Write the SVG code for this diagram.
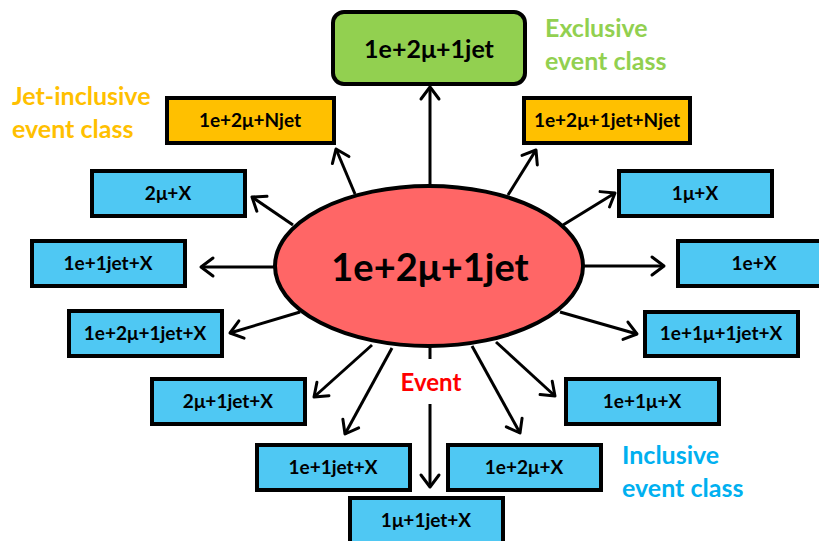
<svg xmlns="http://www.w3.org/2000/svg" width="819" height="541" viewBox="0 0 819 541">
<defs>
<style>
text{font-family:Lato,"Open Sans","Noto Sans",sans-serif;font-weight:bold;text-anchor:middle}
.box{stroke:#000;stroke-width:4}
.blue{fill:#4fc8f3}
.orange{fill:#ffc000}
.lbl{font-size:19px;fill:#000}
.conn{fill:none;stroke:#000;stroke-width:3;marker-end:url(#arr)}
.cap{font-size:25px;text-anchor:start}
</style>
<marker id="arr" markerUnits="userSpaceOnUse" viewBox="-3 -12 18 24" markerWidth="18" markerHeight="24" refX="12" refY="0" orient="auto" overflow="visible">
<path d="M0,-9 L12,0 L0,9" fill="none" stroke="#000" stroke-width="3" stroke-linecap="round" stroke-linejoin="round"/>
</marker>
</defs>
<g id="connectors">
<path class="conn" d="M430,185 V87"/>
<path class="conn" d="M355,194 L336,149"/>
<path class="conn" d="M508,195 L536,150"/>
<path class="conn" d="M293,225 L252,197"/>
<path class="conn" d="M276,267 H201"/>
<path class="conn" d="M300,312 L230,333"/>
<path class="conn" d="M372,345 L314,397"/>
<path class="conn" d="M392,348 L345,434"/>
<path class="conn" d="M430,346 V359 M430,404 V487"/>
<path class="conn" d="M472,346 L520,433"/>
<path class="conn" d="M496,342 L555,396"/>
<path class="conn" d="M560,312 L637,334"/>
<path class="conn" d="M583,266 H664"/>
<path class="conn" d="M563,225 L615,193"/>
</g>
<g id="event">
<ellipse cx="429" cy="266" rx="154" ry="80" fill="#ff6666" stroke="#000" stroke-width="4"/>
<text x="430" y="281" font-size="38">1e+2μ+1jet</text>
</g>
<g id="exclusive">
<rect x="333" y="12" width="192" height="72" rx="11" fill="#92d050" class="box"/>
<text x="429" y="58" font-size="25">1e+2μ+1jet</text>
</g>
<g id="jet-left">
<rect class="box orange" x="167" y="98" width="167" height="45"/>
<text class="lbl" x="250" y="127">1e+2μ+Njet</text>
</g>
<g id="jet-right">
<rect class="box orange" x="524" y="98" width="166" height="45"/>
<text class="lbl" x="607" y="127">1e+2μ+1jet+Njet</text>
</g>
<g id="n-2mu-x">
<rect class="box blue" x="92" y="171" width="153" height="45"/>
<text class="lbl" x="168" y="200">2μ+X</text>
</g>
<g id="n-1e-1jet-x">
<rect class="box blue" x="32" y="241" width="153" height="45"/>
<text class="lbl" x="108" y="270">1e+1jet+X</text>
</g>
<g id="n-1e-2mu-1jet-x">
<rect class="box blue" x="69" y="311" width="153" height="45"/>
<text class="lbl" x="145" y="340">1e+2μ+1jet+X</text>
</g>
<g id="n-2mu-1jet-x">
<rect class="box blue" x="152" y="379" width="153" height="45"/>
<text class="lbl" x="228" y="408">2μ+1jet+X</text>
</g>
<g id="n-1e-1jet-x-b">
<rect class="box blue" x="257" y="445" width="153" height="45"/>
<text class="lbl" x="333" y="474">1e+1jet+X</text>
</g>
<g id="n-1mu-1jet-x">
<rect class="box blue" x="350" y="498" width="153" height="45"/>
<text class="lbl" x="426" y="527">1μ+1jet+X</text>
</g>
<g id="n-1e-2mu-x">
<rect class="box blue" x="448" y="445" width="153" height="45"/>
<text class="lbl" x="524" y="474">1e+2μ+X</text>
</g>
<g id="n-1e-1mu-x">
<rect class="box blue" x="566" y="379" width="153" height="45"/>
<text class="lbl" x="642" y="408">1e+1μ+X</text>
</g>
<g id="n-1e-1mu-1jet-x">
<rect class="box blue" x="645" y="312" width="153" height="44"/>
<text class="lbl" x="721" y="340">1e+1μ+1jet+X</text>
</g>
<g id="n-1e-x">
<rect class="box blue" x="678" y="241" width="153" height="45"/>
<text class="lbl" x="754" y="270">1e+X</text>
</g>
<g id="n-1mu-x">
<rect class="box blue" x="619" y="171" width="153" height="45"/>
<text class="lbl" x="695" y="200">1μ+X</text>
</g>
<g id="labels">
<text class="cap" x="545" y="37" fill="#92d050">Exclusive</text>
<text class="cap" x="545" y="70" fill="#92d050">event class</text>
<text class="cap" x="12" y="105" fill="#ffc000">Jet-inclusive</text>
<text class="cap" x="12" y="138" fill="#ffc000">event class</text>
<text class="cap" x="622" y="464" fill="#00b0f0">Inclusive</text>
<text class="cap" x="622" y="497" fill="#00b0f0">event class</text>
<text x="431" y="391" font-size="24" fill="#ff0000">Event</text>
</g>
</svg>
